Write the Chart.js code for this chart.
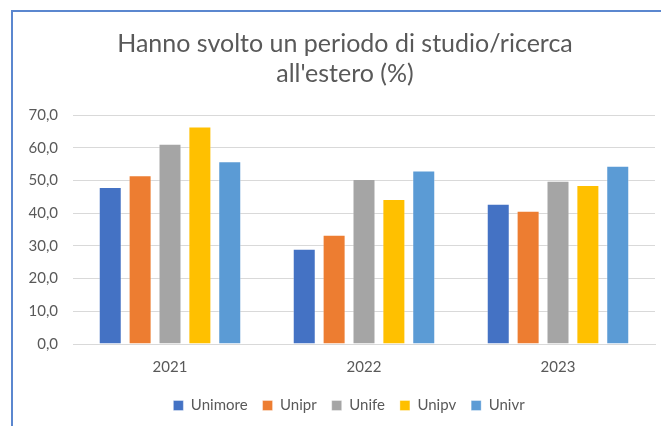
<!DOCTYPE html>
<html>
<head>
<meta charset="utf-8">
<script src="https://cdn.jsdelivr.net/npm/chart.js@4"></script>
<style>
  html, body { margin: 0; padding: 0; background: #fff; overflow: hidden; }
  #frame {
    position: absolute; left: 11px; top: 10px;
    width: 650px; height: 416px;
    border-left: 2px solid #5B87CF; border-top: 2px solid #5B87CF;
  }
  #wrap { position: relative; width: 648px; height: 414px; }
</style>
</head>
<body>
<div id="frame"><div id="wrap"><canvas id="chart"></canvas></div></div>
<script>
// anni e atenei
var years = ["2021", "2022", "2023"];
var unimore = [48.0, 29.1, 42.9];
var unipr = [51.6, 33.4, 40.7];
var unife = [61.2, 50.4, 49.9];
var unipv = [66.5, 44.3, 48.6];
var univr = [55.9, 53.0, 54.5];
var yTicks = [0, 10, 20, 30, 40, 50, 60, 70];

var font = "Lato, 'Open Sans', sans-serif";
var grey = '#595959';

function ds(label, data, color) {
    return { label: label, data: data, backgroundColor: color, borderColor: 'rgba(255,255,255,0.35)', borderWidth: 1 };
}

// in Excel titolo e legenda sono centrati sull'area del grafico, non sul canvas
var shiftBlocks = {
    id: 'shiftBlocks',
    afterLayout: function (chart) {
        chart.titleBlock.left += 11; chart.titleBlock.right += 11;
        chart.legend.left += 15; chart.legend.right += 15;
    }
};

var ctx = document.getElementById('chart').getContext('2d');
new Chart(ctx, {
    type: 'bar',
    data: {
        labels: years,
        datasets: [
            ds('Unimore', unimore, '#4472C4'),
            ds('Unipr', unipr, '#ED7D31'),
            ds('Unife', unife, '#A5A5A5'),
            ds('Unipv', unipv, '#FFC000'),
            ds('Univr', univr, '#5B9BD5')
        ]
    },
    plugins: [shiftBlocks],
    options: {
        responsive: true,
        maintainAspectRatio: false,
        animation: false,
        datasets: { bar: { barPercentage: 0.77, categoryPercentage: 0.77 } },
        layout: { padding: { left: 0, right: 6, top: 4, bottom: 3 } },
        plugins: {
            title: {
                display: true,
                text: ["Hanno svolto un periodo di studio/ricerca", "all'estero (%)"],
                color: grey,
                font: { family: font, size: 25, weight: 'normal', lineHeight: 1.2 },
                padding: { top: 13, bottom: 26 }
            },
            legend: {
                position: 'bottom',
                labels: {
                    color: grey,
                    font: { family: font, size: 15 },
                    boxWidth: 10, boxHeight: 10,
                    padding: 15
                }
            },
            tooltip: { enabled: false }
        },
        scales: {
            x: {
                afterFit: function (s) { s.height = 39; },
                grid: { display: false, drawTicks: false },
                border: { display: true, color: '#D9D9D9' },
                ticks: { color: grey, font: { family: font, size: 15 }, padding: 14 }
            },
            y: {
                min: 0, max: 70,
                afterBuildTicks: function (s) { s.ticks = yTicks.map(function (v) { return { value: v }; }); },
                afterFit: function (s) { s.width = 60; },
                grid: { color: '#D9D9D9', lineWidth: 1, drawTicks: false },
                border: { display: false },
                ticks: {
                    color: grey, font: { family: font, size: 15 }, padding: 15,
                    callback: function (v) { return v.toFixed(1).replace('.', ','); }
                }
            }
        }
    }
});
</script>
</body>
</html>
